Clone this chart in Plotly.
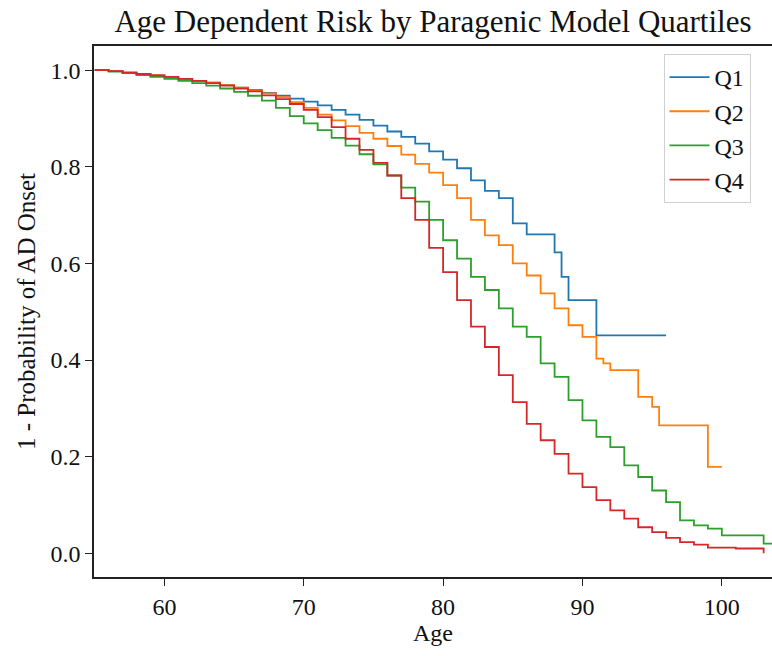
import plotly.graph_objects as go

# ---- data ----
q1_age = list(range(55, 89)) + [88.5, 89, 90, 91, 96]
q1_val = [1.0, .998, .995, .992, .989, .986, .982, .978, .974, .969,
          .964, .959, .953, .947, .941, .935, .927, .918, .908, .897,
          .885, .873, .862, .848, .832, .815, .797, .772, .750, .735,
          .683, .660, .660, .623,
          .572, .524, .524, .451, .451]

q2_age = list(range(55, 92)) + [91.5, 92, 93, 94, 95, 95.5, 99, 100]
q2_val = [1.0, .998, .995, .992, .989, .986, .982, .978, .974, .969,
          .964, .958, .952, .944, .934, .922, .908, .896, .884, .870,
          .858, .843, .825, .806, .788, .762, .735, .690, .658, .638,
          .600, .575, .538, .507, .472, .448, .403,
          .393, .379, .379, .324, .303, .265, .179, .179]

q3_age = list(range(55, 105))
q3_val = [1.0, .997, .994, .990, .986, .982, .978, .973, .968, .962,
          .955, .947, .937, .922, .905, .890, .876, .860, .844, .826,
          .805, .782, .757, .728, .690, .648, .610, .572, .545, .507,
          .469, .448, .393, .365, .317, .275, .241, .220, .182, .158,
          .130, .106, .068, .058, .051, .037, .037, .037, .020, .020]

q4_age = list(range(55, 104))
q4_val = [1.0, .998, .995, .992, .989, .986, .982, .978, .973, .968,
          .962, .956, .948, .940, .930, .918, .903, .882, .858, .835,
          .808, .782, .735, .690, .632, .582, .524, .469, .427, .369,
          .313, .268, .234, .206, .165, .137, .110, .089, .072, .054,
          .044, .032, .023, .018, .012, .012, .010, .010, 0.0]

series_names = ["Q1", "Q2", "Q3", "Q4"]
series_colors = ["#1f77b4", "#ff7f0e", "#2ca02c", "#d62728"]
y_ticks = [0.0, 0.2, 0.4, 0.6, 0.8, 1.0]
x_ticks = [60, 70, 80, 90, 100]

FONT = "Liberation Serif, Times New Roman, serif"

fig = go.Figure()
for name, color, xs, ys in zip(series_names, series_colors,
                               [q1_age, q2_age, q3_age, q4_age],
                               [q1_val, q2_val, q3_val, q4_val]):
    assert len(xs) == len(ys), name
    fig.add_trace(go.Scatter(x=xs, y=ys, mode="lines", name=name,
                             legendgroup=name,
                             line=dict(color=color, width=1.8, shape="hv")))

axis_common = dict(showline=True, linecolor="#222", linewidth=1.5, mirror=True,
                   ticks="outside", ticklen=7, tickwidth=1.3, tickcolor="#222",
                   showgrid=False, zeroline=False, automargin=False,
                   tickfont=dict(family=FONT, size=24, color="#111"))

fig.update_layout(
    width=772, height=656,
    margin=dict(l=94, r=0, t=46, b=79),
    paper_bgcolor="white", plot_bgcolor="white",
    title=dict(text="Age Dependent Risk by Paragenic Model Quartiles",
               x=0.5, xref="paper", xanchor="center", y=0.968, yanchor="middle",
               font=dict(family=FONT, size=31, color="#111")),
    xaxis=dict(range=[54.95, 103.6], tickvals=x_ticks,
               title=dict(text="Age", font=dict(family=FONT, size=24, color="#111"),
                          standoff=4),
               **axis_common),
    yaxis=dict(range=[-0.049, 1.05], tickvals=y_ticks, tickformat=".1f",
               title=dict(text="1 - Probability of AD Onset",
                          font=dict(family=FONT, size=25, color="#111"), standoff=8),
               **axis_common),
    legend=dict(x=0.84, y=0.985, xanchor="left", yanchor="top",
                bgcolor="rgba(255,255,255,0.85)", bordercolor="#d0d0d0", borderwidth=1,
                font=dict(family=FONT, size=24, color="#111"),
                itemwidth=40,
                traceorder="grouped", tracegroupgap=0),
    showlegend=True,
)

fig.write_html("out.html",
               config={"displayModeBar": False},
               post_script="document.body.style.margin='0';document.body.style.overflow='hidden';")
